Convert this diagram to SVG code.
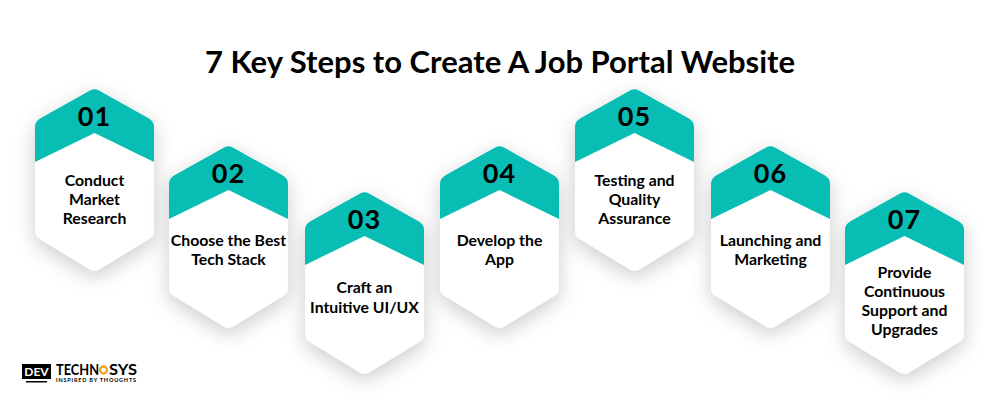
<svg xmlns="http://www.w3.org/2000/svg" width="1000" height="400" viewBox="0 0 1000 400">
<style>
text{font-family:"Lato","Liberation Sans",sans-serif;fill:#000;text-anchor:middle}
.title{font-size:31px;font-weight:700}
.num{font-size:27px;font-weight:700;letter-spacing:1px}
.lbl{font-size:15.800px;font-weight:700}
.body{fill:#fff;filter:url(#sh)}
.cap{fill:#08bdb4}
</style>
<defs>
<filter id="sh" x="-40%" y="-30%" width="180%" height="160%"><feDropShadow dx="0" dy="6" stdDeviation="10" flood-color="#000" flood-opacity="0.2"/></filter>
<path id="hex" d="M55 1.500Q59.500 -1 64 1.500L114 29.500Q119 32.500 119 37.500V142Q119 147 114 150L64 180.500Q59.500 183 55 180.500L5 150Q0 147 0 142V37.500Q0 32.500 5 29.500Z"/>
<path id="cap" d="M55 1.500Q59.500 -1 64 1.500L114 29.500Q119 32.500 119 37.500V73L59.500 44L0 73V37.500Q0 32.500 5 29.500Z"/>
</defs>
<rect width="1000" height="400" fill="#fff"/>
<text class="title" x="500" y="73">7 Key Steps to Create A Job Portal Website</text>
<g id="connectors"/>
<g id="node1" transform="translate(35 89)"><use href="#hex" class="body"/><use href="#cap" class="cap"/><text class="num" x="59.500" y="37">01</text><text class="lbl" x="59.500" y="97">Conduct</text><text class="lbl" x="59.500" y="116">Market</text><text class="lbl" x="59.500" y="135">Research</text></g>
<g id="node2" transform="translate(169 146)"><use href="#hex" class="body"/><use href="#cap" class="cap"/><text class="num" x="59.500" y="37">02</text><text class="lbl" x="59.500" y="100">Choose the Best</text><text class="lbl" x="59.500" y="119">Tech Stack</text></g>
<g id="node3" transform="translate(305 192)"><use href="#hex" class="body"/><use href="#cap" class="cap"/><text class="num" x="59.500" y="37">03</text><text class="lbl" x="59.500" y="101">Craft an</text><text class="lbl" x="59.500" y="121">Intuitive UI/UX</text></g>
<g id="node4" transform="translate(440 146)"><use href="#hex" class="body"/><use href="#cap" class="cap"/><text class="num" x="59.500" y="37">04</text><text class="lbl" x="59.500" y="100">Develop the</text><text class="lbl" x="59.500" y="119">App</text></g>
<g id="node5" transform="translate(575 89)"><use href="#hex" class="body"/><use href="#cap" class="cap"/><text class="num" x="59.500" y="37">05</text><text class="lbl" x="59.500" y="97">Testing and</text><text class="lbl" x="59.500" y="116">Quality</text><text class="lbl" x="59.500" y="135">Assurance</text></g>
<g id="node6" transform="translate(711 146)"><use href="#hex" class="body"/><use href="#cap" class="cap"/><text class="num" x="59.500" y="37">06</text><text class="lbl" x="59.500" y="100">Launching and</text><text class="lbl" x="59.500" y="119">Marketing</text></g>
<g id="node7" transform="translate(845 192)"><use href="#hex" class="body"/><use href="#cap" class="cap"/><text class="num" x="59.500" y="37">07</text><text class="lbl" x="59.500" y="86">Provide</text><text class="lbl" x="59.500" y="105">Continuous</text><text class="lbl" x="59.500" y="124">Support and</text><text class="lbl" x="59.500" y="143">Upgrades</text></g>
<g id="logo">
<rect x="22" y="364" width="29" height="15" fill="#000"/>
<path d="M26 381H47V382.500H26Z" fill="#000"/>
<text x="36.500" y="376" style="fill:#fff;font-size:12px;font-weight:700">DEV</text>
<text x="56" y="375" textLength="43" lengthAdjust="spacingAndGlyphs" style="font-size:15px;font-weight:700;text-anchor:start">TECHN</text>
<circle cx="103.500" cy="370" r="3.500" fill="none" stroke="#f5a623" stroke-width="2.500"/>
<text x="109" y="375" textLength="28" lengthAdjust="spacingAndGlyphs" style="font-size:15px;font-weight:700;text-anchor:start">SYS</text>
<text x="56" y="381.500" textLength="80" style="font-size:5.500px;font-weight:700;text-anchor:start">INSPIRED BY THOUGHTS</text>
</g>
</svg>
